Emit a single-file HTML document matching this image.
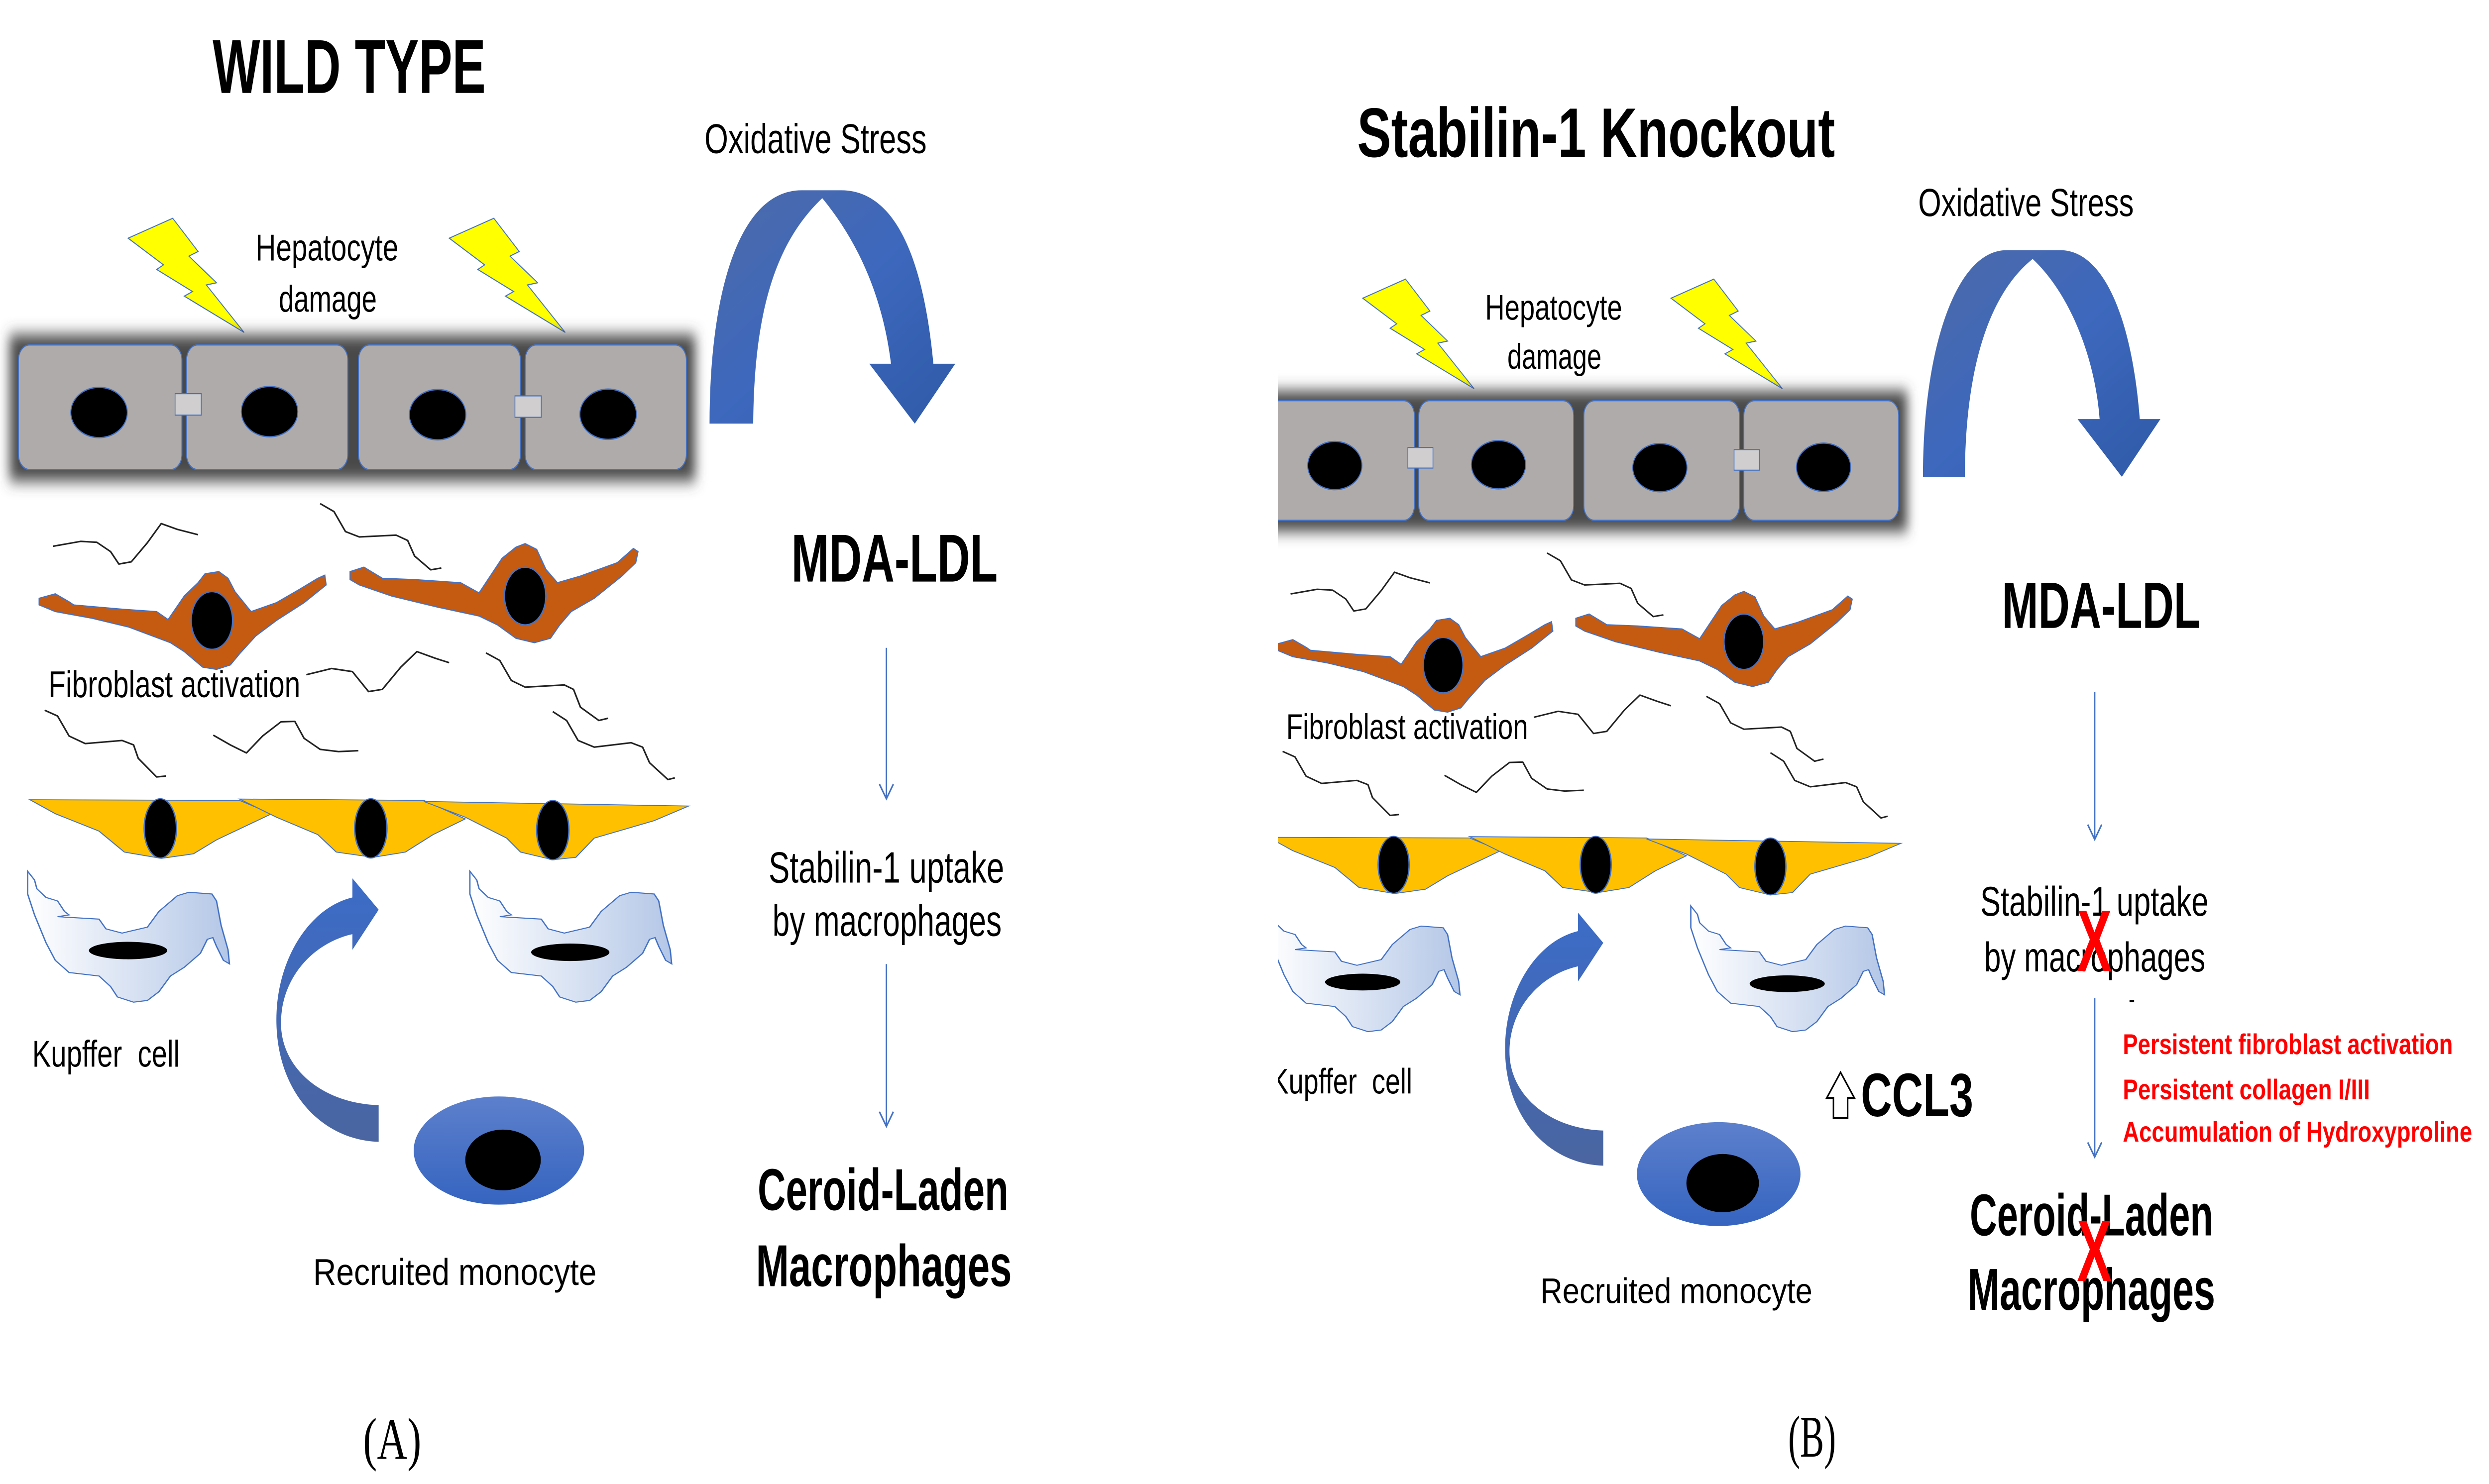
<!DOCTYPE html>
<html><head><meta charset="utf-8"><style>
html,body{margin:0;padding:0;background:#fff;width:100%;height:100%;overflow:hidden;}
svg{display:block;position:absolute;left:0;top:0;width:100vw;height:100vh;}
text{font-family:"Liberation Sans",sans-serif;}
</style></head><body>
<svg xmlns="http://www.w3.org/2000/svg" xmlns:xlink="http://www.w3.org/1999/xlink" width="100%" height="100%" viewBox="0 0 1568 678.5" preserveAspectRatio="none">
<defs>
<linearGradient id="ga" x1="0" y1="0" x2="1" y2="1"><stop offset="0" stop-color="#4d6aa8"/><stop offset="0.5" stop-color="#3d68bd"/><stop offset="1" stop-color="#2f5aa8"/></linearGradient>
<linearGradient id="gc" x1="0" y1="0" x2="0" y2="1"><stop offset="0" stop-color="#3c6cc8"/><stop offset="1" stop-color="#4a65a0"/></linearGradient>
<linearGradient id="gm" x1="0" y1="0" x2="0" y2="1"><stop offset="0" stop-color="#5d80cc"/><stop offset="1" stop-color="#3564c0"/></linearGradient>
<linearGradient id="gk" x1="0" y1="0" x2="1" y2="0"><stop offset="0" stop-color="#ffffff"/><stop offset="1" stop-color="#b4c7e7"/></linearGradient>
<filter id="blur" x="-0.1" y="-0.3" width="1.2" height="1.6"><feGaussianBlur stdDeviation="3.5"/></filter>
<clipPath id="clipB"><rect x="805" y="0" width="763" height="678.5"/></clipPath>
<g id="tissue">
  <polygon points="80.7,108.9 108.8,99.8 124.8,115 119,117.1 136.4,129.3 130,130.3 153.8,152 116.1,135.4 121.3,133.3 98.7,123.2 103,121.1" fill="#ffff00" stroke="#4472c4" stroke-width="0.5"/>
  <polygon transform="translate(202.3,0)" points="80.7,108.9 108.8,99.8 124.8,115 119,117.1 136.4,129.3 130,130.3 153.8,152 116.1,135.4 121.3,133.3 98.7,123.2 103,121.1" fill="#ffff00" stroke="#4472c4" stroke-width="0.5"/>
  <text x="161" y="119.1" font-size="17" textLength="90" lengthAdjust="spacingAndGlyphs">Hepatocyte</text>
  <text x="175.6" y="142.5" font-size="17" textLength="61.8" lengthAdjust="spacingAndGlyphs">damage</text>
  <rect x="6" y="153" width="432" height="67" fill="#4a4a4a" filter="url(#blur)"/>
  <g fill="#afabab" stroke="#4472c4" stroke-width="0.6">
    <rect x="11.6" y="157.7" width="103" height="57" rx="7"/>
    <rect x="117.5" y="157.7" width="101.6" height="57" rx="7"/>
    <rect x="225.8" y="157.7" width="102.1" height="57" rx="7"/>
    <rect x="330.8" y="157.7" width="101.6" height="57" rx="7"/>
  </g>
  <g fill="#000" stroke="#4472c4" stroke-width="0.6">
    <ellipse cx="62.4" cy="188.6" rx="17.8" ry="11.5"/>
    <ellipse cx="169.8" cy="188.2" rx="17.8" ry="11.5"/>
    <ellipse cx="275.7" cy="189.6" rx="17.8" ry="11.5"/>
    <ellipse cx="383.1" cy="189.4" rx="17.8" ry="11.5"/>
  </g>
  <rect x="110.3" y="180" width="16.5" height="9.8" fill="#d0cece" stroke="#4472c4" stroke-width="0.5"/>
  <rect x="324.4" y="181" width="16.6" height="9.8" fill="#d0cece" stroke="#4472c4" stroke-width="0.5"/>
  <g transform="matrix(0.2902,0,0,0.2032,0,68.3)">
    <g fill="none" stroke="#222" stroke-width="3.5" stroke-linejoin="round">
      <polyline points="115,893 175,882 210,884 240,905 258,933 285,928 320,885 350,842 385,855 430,867"/>
      <polyline points="695,797 725,815 750,860 780,872 860,868 885,880 900,915 935,946 958,942"/>
      <polyline points="665,1182 720,1168 765,1175 800,1220 830,1215 870,1165 905,1130 945,1145 975,1155"/>
      <polyline points="1055,1133 1085,1150 1110,1195 1140,1210 1225,1205 1245,1215 1260,1255 1300,1285 1320,1280"/>
      <polyline points="97,1262 125,1275 150,1320 185,1337 265,1330 290,1340 300,1370 340,1412 360,1410"/>
      <polyline points="463,1318 500,1340 535,1358 570,1320 610,1288 640,1287 660,1325 695,1350 735,1355 778,1353"/>
      <polyline points="1200,1265 1230,1285 1255,1330 1290,1345 1370,1335 1395,1345 1410,1380 1450,1418 1465,1414"/>
    </g>
    <g fill="#c55a11" stroke="#4472c4" stroke-width="2.5">
      <path d="M85,1010 L120,1000 L150,1018 L160,1025 L270,1035 L340,1040 L365,1058 L400,1005 L430,975 L445,955 L475,950 L495,965 L510,995 L545,1040 L600,1020 L650,990 L690,965 L705,958 L708,980 L690,995 L660,1020 L600,1060 L555,1095 L520,1135 L500,1160 L470,1170 L440,1165 L400,1130 L370,1110 L280,1075 L200,1055 L120,1040 L85,1025 Z"/>
      <path d="M760,950 L790,940 L830,965 L900,968 L1000,975 L1040,998 L1090,920 L1120,895 L1140,887 L1165,900 L1185,945 L1210,975 L1260,960 L1340,930 L1375,898 L1385,905 L1380,930 L1350,960 L1290,1010 L1240,1040 L1215,1070 L1195,1100 L1160,1110 L1120,1100 L1080,1070 L1040,1050 L950,1030 L850,1005 L780,980 L760,968 Z"/>
    </g>
    <g fill="#000" stroke="#4472c4" stroke-width="3">
      <ellipse cx="460" cy="1060" rx="45" ry="65"/>
      <ellipse cx="1140" cy="1005" rx="45" ry="65"/>
    </g>
  </g>
  <text x="30.5" y="318.8" font-size="17" textLength="158.7" lengthAdjust="spacingAndGlyphs">Fibroblast activation</text>
  <g transform="matrix(0.2902,0,0,0.1596,0,364.05)">
    <g fill="#ffc000" stroke="#4472c4" stroke-width="2.5">
      <path d="M65,10 L520,12 L590,50 L470,125 L420,165 L350,178 L270,160 L215,100 L120,50 Z"/>
      <path d="M520,8 L920,12 L1010,65 L940,110 L880,160 L810,175 L730,160 L690,110 L600,60 Z"/>
      <path d="M920,15 L1495,28 L1420,70 L1290,120 L1250,175 L1200,182 L1130,160 L1100,120 L1010,60 Z"/>
    </g>
    <g fill="#000" stroke="#4472c4" stroke-width="3">
      <ellipse cx="348" cy="92" rx="35" ry="85"/>
      <ellipse cx="805" cy="92" rx="35" ry="85"/>
      <ellipse cx="1200" cy="97" rx="35" ry="85"/>
    </g>
    <g fill="url(#gk)" stroke="#4472c4" stroke-width="3">
      <path d="M60,215 L75,240 L80,265 L100,290 L125,300 L140,330 L150,340 L125,345 L215,352 L230,380 L265,392 L320,375 L345,330 L385,285 L410,275 L460,280 L470,300 L480,370 L495,440 L498,480 L485,470 L470,430 L462,405 L450,410 L435,450 L400,490 L370,515 L345,560 L320,585 L290,590 L255,575 L240,545 L215,515 L150,505 L120,470 L100,420 L75,340 L60,280 Z"/>
      <path transform="translate(960,0)" d="M60,215 L75,240 L80,265 L100,290 L125,300 L140,330 L150,340 L125,345 L215,352 L230,380 L265,392 L320,375 L345,330 L385,285 L410,275 L460,280 L470,300 L480,370 L495,440 L498,480 L485,470 L470,430 L462,405 L450,410 L435,450 L400,490 L370,515 L345,560 L320,585 L290,590 L255,575 L240,545 L215,515 L150,505 L120,470 L100,420 L75,340 L60,280 Z"/>
    </g>
    <ellipse cx="278" cy="442" rx="85" ry="25" fill="#000"/>
    <ellipse cx="1238" cy="447" rx="85" ry="25" fill="#000"/>
    <path d="M822,990 C700,985 600,850 600,640 C600,470 670,320 765,290 L765,235 L822,325 L765,440 L765,395 C680,420 610,520 610,650 C610,780 700,880 822,885 Z" fill="url(#gc)"/>
    <ellipse cx="1083" cy="1015" rx="185" ry="155" fill="url(#gm)"/>
    <ellipse cx="1092" cy="1042" rx="82" ry="87" fill="#000"/>
  </g>
  <text x="20.3" y="487.7" font-size="17" textLength="92.9" lengthAdjust="spacingAndGlyphs" xml:space="preserve">Kupffer  cell</text>
  <text x="197.3" y="587.5" font-size="17" textLength="178.5" lengthAdjust="spacingAndGlyphs">Recruited monocyte</text>
</g>
</defs>

<use xlink:href="#tissue" href="#tissue"/>
<text x="134" y="42.5" font-size="35" font-weight="bold" textLength="172" lengthAdjust="spacingAndGlyphs">WILD TYPE</text>
<text x="443.8" y="70" font-size="19" textLength="140" lengthAdjust="spacingAndGlyphs">Oxidative Stress</text>
<path d="M447,193.7 L474.5,193.7 C475,140 490,110 518,90.6 C540,110 556,135 561.3,166.3 L547.6,166.3 L576.3,193.7 L601.8,166.3 L588,166.3 C582,120 565,87 530,87 L505,87 C465,87 447,135 447,193.7 Z" fill="url(#ga)"/>
<text x="498.5" y="265.9" font-size="31" font-weight="bold" textLength="130" lengthAdjust="spacingAndGlyphs">MDA-LDL</text>
<g stroke="#4472c4" stroke-width="0.9" fill="none">
  <line x1="558.4" y1="296.2" x2="558.4" y2="365.2"/><polyline points="554,358.5 558.4,365.2 562.8,358.5"/>
  <line x1="558.4" y1="440.8" x2="558.4" y2="515"/><polyline points="554,508.3 558.4,515 562.8,508.3"/>
  <line x1="1319.6" y1="316.5" x2="1319.6" y2="383.8"/><polyline points="1315.2,377 1319.6,383.8 1324,377"/>
  <line x1="1319.6" y1="456.4" x2="1319.6" y2="529"/><polyline points="1315.2,522.3 1319.6,529 1324,522.3"/>
</g>
<text x="484.2" y="403.5" font-size="20" textLength="148.4" lengthAdjust="spacingAndGlyphs">Stabilin-1 uptake</text>
<text x="486.6" y="427.9" font-size="20" textLength="144.4" lengthAdjust="spacingAndGlyphs">by macrophages</text>
<text x="477.3" y="553.3" font-size="27" font-weight="bold" textLength="158" lengthAdjust="spacingAndGlyphs">Ceroid-Laden</text>
<text x="476.2" y="588.1" font-size="27" font-weight="bold" textLength="161.2" lengthAdjust="spacingAndGlyphs">Macrophages</text>
<text x="228.7" y="667" font-size="27" style="font-family:'Liberation Serif',serif" textLength="36.7" lengthAdjust="spacingAndGlyphs">(A)</text>

<g clip-path="url(#clipB)">
  <g transform="matrix(0.96,0,0,0.96,781,31.8)"><use xlink:href="#tissue" href="#tissue"/></g>
</g>
<text x="855" y="71.7" font-size="32" font-weight="bold" textLength="301" lengthAdjust="spacingAndGlyphs">Stabilin-1 Knockout</text>
<text x="1208.4" y="98.7" font-size="18" textLength="135.8" lengthAdjust="spacingAndGlyphs">Oxidative Stress</text>
<path d="M1211.4,218 L1237.8,218 C1238,170 1252,135 1280.5,118.4 C1305,135 1320,165 1322.7,191.6 L1308.8,191.6 L1336.7,218 L1361,191.6 L1348,191.6 C1343,145 1325,114.4 1298,114.4 L1264,114.4 C1232,114.4 1211.4,160 1211.4,218 Z" fill="url(#ga)"/>
<text x="1261.2" y="287.1" font-size="30" font-weight="bold" textLength="125" lengthAdjust="spacingAndGlyphs">MDA-LDL</text>
<text x="1247.5" y="418.7" font-size="19" textLength="143.8" lengthAdjust="spacingAndGlyphs">Stabilin-1 uptake</text>
<text x="1250" y="444.1" font-size="19" textLength="139.3" lengthAdjust="spacingAndGlyphs">by macrophages</text>
<text x="1308.4" y="444" font-size="40" font-weight="bold" fill="#ff0000" textLength="22" lengthAdjust="spacingAndGlyphs">X</text>
<text x="1341" y="461" font-size="12">-</text>
<text x="1337.3" y="481.9" font-size="13" font-weight="bold" fill="#ff0000" textLength="207.9" lengthAdjust="spacingAndGlyphs">Persistent fibroblast activation</text>
<text x="1337.3" y="502.6" font-size="13" font-weight="bold" fill="#ff0000" textLength="155.7" lengthAdjust="spacingAndGlyphs">Persistent collagen I/III</text>
<text x="1337.3" y="522" font-size="13" font-weight="bold" fill="#ff0000" textLength="220.1" lengthAdjust="spacingAndGlyphs">Accumulation of Hydroxyproline</text>
<polygon points="1159.5,490.3 1168.2,502 1164,502 1164,511.2 1155,511.2 1155,502 1150.8,502" fill="#fff" stroke="#000" stroke-width="0.9"/>
<text x="1172.3" y="510.4" font-size="28" font-weight="bold" textLength="70.8" lengthAdjust="spacingAndGlyphs">CCL3</text>
<text x="1240.9" y="564.9" font-size="27" font-weight="bold" textLength="153.3" lengthAdjust="spacingAndGlyphs">Ceroid-Laden</text>
<text x="1239.6" y="598.9" font-size="27" font-weight="bold" textLength="155.9" lengthAdjust="spacingAndGlyphs">Macrophages</text>
<text x="1308.4" y="585.7" font-size="40" font-weight="bold" fill="#ff0000" textLength="22" lengthAdjust="spacingAndGlyphs">X</text>
<text x="1126.5" y="666" font-size="27" style="font-family:'Liberation Serif',serif" textLength="30.1" lengthAdjust="spacingAndGlyphs">(B)</text>
</svg>
</body></html>
